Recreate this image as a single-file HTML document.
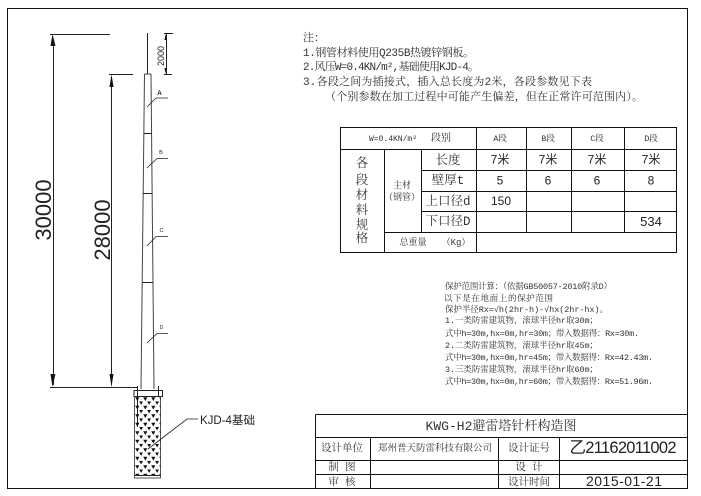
<!DOCTYPE html>
<html lang="zh">
<head>
<meta charset="utf-8">
<title>KWG-H2避雷塔针杆构造图</title>
<style>
html,body{margin:0;padding:0;background:#fff;width:701px;height:496px;overflow:hidden}
svg{display:block}
.s{font-family:"Liberation Mono","Noto Serif CJK SC",serif;fill:#333}
.a{font-family:"Liberation Sans","Noto Sans CJK SC",sans-serif;fill:#222}
.m{text-anchor:middle}
</style>
</head>
<body>
<svg width="701" height="496" viewBox="0 0 701 496" xmlns="http://www.w3.org/2000/svg">
<defs>
<pattern id="tri" x="135" y="397" width="8" height="8.500" patternUnits="userSpaceOnUse">
<path d="M0.200 0.300h4.200l-2.100 3.700zM4.200 4.500h3.800l-1.900 3.400z" fill="#111"/>
</pattern>
</defs>
<rect width="701" height="496" fill="#fff"/>
<!-- frame -->
<rect x="7.500" y="8.500" width="680" height="480" fill="none" stroke="#111" stroke-width="1"/>

<!-- pole -->
<g fill="none" stroke="#222" stroke-width="1">
<path d="M147.500 33V74"/>
<path d="M144.500 74H151M144.500 74L141 389M151 74L154 389" stroke="#444"/>
<path d="M143.500 133.500H151.500M143 193.500H152M142.500 282.500H153"/>
<!-- dims 30000 / 28000 -->
<path d="M53.500 40V385"/>
<path d="M50 34.500H110M50 387.500H137"/>
<path d="M111.500 80V385"/>
<path d="M109 74.500H133"/>
<!-- 2000 -->
<path d="M166.500 33.500V74.500M164 33.500H173M164 74.500H172"/>
<!-- base -->
<rect x="134" y="390.500" width="28.500" height="6"/>
<path d="M137.500 386V427M158.500 386V397"/>
<path d="M134.500 396V478H160.500V396" stroke="#555"/>
<path d="M134.500 475.500H160.500"/>
</g>
<rect x="135" y="397" width="25.500" height="78" fill="url(#tri)"/>
<g fill="#111">
<path d="M52.500 34L50.500 46H55.500Z"/>
<path d="M52.500 387L50.500 374H55.500Z"/>
<path d="M111.500 74L109.500 87H113.500Z"/>
<path d="M111.500 387L109.500 374H113.500Z"/>
<path d="M165.500 34L164.500 40H166.500ZM165.500 74L164.500 68H166.500Z"/>
</g>
<!-- leaders -->
<g fill="none" stroke="#222" stroke-width="0.800">
<path d="M147 107L156 98H168"/>
<path d="M147 168L157 158.500H168"/>
<path d="M147 246L156 236.500H168"/>
<path d="M147 343L157 333.500H168"/>
<path d="M148 449L187 419H198"/>
</g>
<text class="a m" x="159.500" y="95" font-size="6.500" font-weight="bold">A</text>
<text class="a m" x="161" y="154" font-size="5.500">B</text>
<text class="a m" x="161.500" y="232" font-size="5.500">C</text>
<text class="a m" x="161.500" y="329" font-size="5">D</text>
<text class="a m" transform="translate(164,56) rotate(-90)" font-size="9">2000</text>
<text class="a m" transform="translate(51,210) rotate(-90)" font-size="22">30000</text>
<text class="a m" transform="translate(110,230) rotate(-90)" font-size="22">28000</text>
<text class="a" x="200" y="424" font-size="11.500">KJD-4基础</text>

<!-- notes -->
<g class="s" font-size="11">
<text x="303" y="41">注&#xFF1A;</text>
<text x="303" y="56" textLength="171">1.钢管材料使用Q235B热镀锌钢板。</text>
<text x="303" y="70" textLength="176">2.风压W=0.4KN/m²,基础使用KJD-4。</text>
<text x="303" y="85" textLength="289">3.各段之间为插接式&#xFF0C;插入总长度为2米&#xFF0C;各段参数见下表</text>
<text x="325" y="100" textLength="318">&#xFF08;个别参数在加工过程中可能产生偏差&#xFF0C;但在正常许可范围内&#xFF09;。</text>
</g>

<!-- table -->
<g fill="none" stroke="#111" stroke-width="1">
<rect x="340.500" y="127.500" width="336" height="125"/>
<path d="M340.500 149.500H676.500M421.500 170.500H676.500M421.500 191.500H676.500M421.500 211.500H676.500M384.500 232.500H676.500"/>
<path d="M384.500 149.500V252.500M421.500 149.500V232.500M476.500 127.500V252.500M526.500 127.500V232.500M571.500 127.500V232.500M624.500 127.500V232.500"/>
</g>
<g class="s m" font-size="8.500">
<text x="393" y="141" font-size="8">W=0.4KN/m²</text>
<text x="441" y="141" font-size="10">段别</text>
<text x="500" y="141">A段</text>
<text x="548" y="141">B段</text>
<text x="597" y="141">C段</text>
<text x="651" y="141">D段</text>
</g>
<g class="s m" font-size="12.500">
<text x="448" y="164">长度</text>
<text x="448" y="184">壁厚t</text>
<text x="448" y="205">上口径d</text>
<text x="448" y="225">下口径D</text>
<text x="362" y="167">各</text>
<text x="362" y="184">段</text>
<text x="362" y="199">材</text>
<text x="362" y="214">料</text>
<text x="362" y="229">规</text>
<text x="362" y="242">格</text>
<text x="402" y="188" font-size="9">主材</text>
<text x="402" y="200" font-size="9">&#xFF08;钢管&#xFF09;</text>
<text x="413" y="245" font-size="9">总重量</text>
<text x="456" y="245" font-size="9">&#xFF08;Kg&#xFF09;</text>
</g>
<g class="a m" font-size="12">
<text x="500" y="163.500">7米</text>
<text x="548" y="163.500">7米</text>
<text x="597" y="163.500">7米</text>
<text x="651" y="163.500">7米</text>
<text x="500" y="184.500">5</text>
<text x="548" y="184.500">6</text>
<text x="597" y="184.500">6</text>
<text x="651" y="184.500">8</text>
<text x="501" y="205">150</text>
<text x="651" y="226" font-size="13">534</text>
</g>

<!-- calc -->
<g class="s" font-size="8.500">
<text x="445" y="289" textLength="167">保护范围计算&#xFF1A;&#xFF08;依据GB50057-2010附录D&#xFF09;</text>
<text x="444" y="301" textLength="109">以下是在地面上的保护范围</text>
<text x="445" y="312" textLength="163">保护半径Rx=√h(2hr-h)-√hx(2hr-hx)。</text>
<text x="445" y="323" textLength="153">1.一类防雷建筑物&#xFF0C;滚球半径hr取30m&#xFF1B;</text>
<text x="445" y="336" textLength="194">式中h=30m,hx=0m,hr=30m&#xFF1B;带入数据得&#xFF1A;Rx=30m.</text>
<text x="445" y="348" textLength="153">2.二类防雷建筑物&#xFF0C;滚球半径hr取45m&#xFF1B;</text>
<text x="445" y="360" textLength="208">式中h=30m,hx=0m,hr=45m&#xFF1B;带入数据得&#xFF1A;Rx=42.43m.</text>
<text x="445" y="372" textLength="153">3.三类防雷建筑物&#xFF0C;滚球半径hr取60m&#xFF1B;</text>
<text x="445" y="384" textLength="208">式中h=30m,hx=0m,hr=60m&#xFF1B;带入数据得&#xFF1A;Rx=51.96m.</text>
</g>

<!-- title block -->
<g fill="none" stroke="#111" stroke-width="1">
<path d="M315.500 414.500H687.500M315.500 414.500V488M315.500 437.500H687.500M315.500 460.500H687.500M315.500 474.500H687.500"/>
<path d="M370.500 437.500V488M498.500 437.500V488M559.500 437.500V488"/>
</g>
<text class="s m" x="501" y="430" font-size="13" textLength="151">KWG-H2避雷塔针杆构造图</text>
<g class="s m" font-size="10.500">
<text x="342" y="451">设计单位</text>
<text x="435" y="451" font-size="9.500">郑州普天防雷科技有限公司</text>
<text x="529" y="451">设计证号</text>
<text x="342" y="470">制  图</text>
<text x="529" y="470">设  计</text>
<text x="342" y="485">审  核</text>
<text x="529" y="485">设计时间</text>
</g>
<text class="a m" x="623" y="453" font-size="16.500" textLength="107">乙21162011002</text>
<text class="a m" x="624" y="486" font-size="14" textLength="76">2015-01-21</text>
</svg>
</body>
</html>
